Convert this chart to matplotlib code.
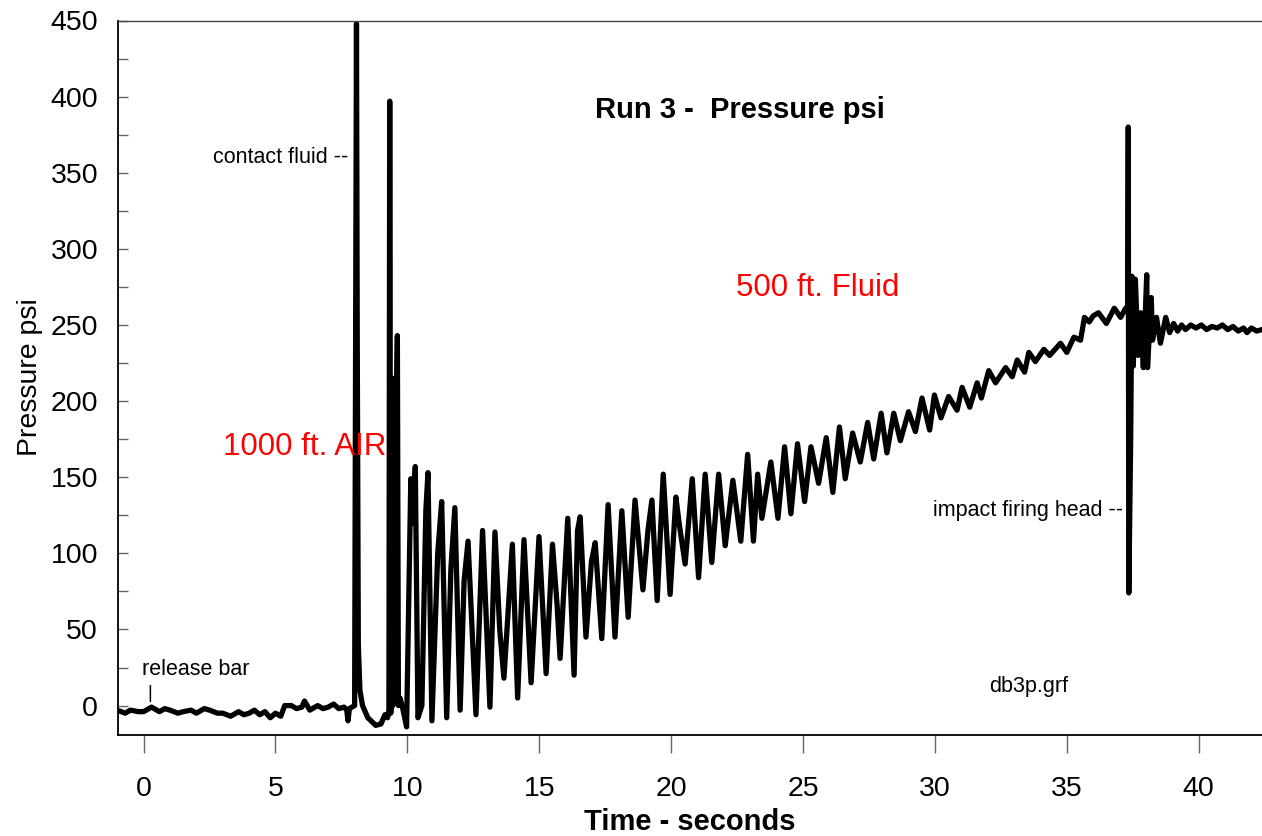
import matplotlib
matplotlib.use("Agg")
import matplotlib.pyplot as plt
from matplotlib.ticker import MultipleLocator

plt.rcParams['font.family'] = ['Liberation Sans', 'DejaVu Sans']

# Pressure trace: key points (time s, pressure psi)
time_s = [
    -1.0, -0.7, -0.5, -0.2, 0.0, 0.3, 0.6, 0.8, 1.0, 1.3, 1.5, 1.8, 2.0, 2.3, 2.5, 2.8,
    3.0, 3.3, 3.6, 3.8, 4.0, 4.2, 4.4, 4.6, 4.8, 5.0, 5.2,
    5.35, 5.6, 5.8, 6.0, 6.1, 6.3, 6.6, 6.8, 7.0, 7.2, 7.4, 7.6, 7.7, 7.75, 7.8, 8.0,
    8.07, 8.10, 8.14, 8.2, 8.3, 8.5, 8.8, 9.0, 9.15, 9.25, 9.30,
    9.33, 9.37, 9.42, 9.45, 9.50, 9.53, 9.58, 9.62, 9.66, 9.72, 9.8, 9.97,
    10.13, 10.2, 10.3, 10.4, 10.55, 10.7, 10.78, 10.93, 11.15, 11.3, 11.49,
    11.65, 11.8, 12.0, 12.15, 12.3, 12.6, 12.85, 13.13, 13.32, 13.5, 13.66,
    13.98, 14.18, 14.42, 14.69, 14.99, 15.26, 15.5, 15.68, 15.79, 16.08, 16.32,
    16.45, 16.55, 16.77, 16.98, 17.12, 17.37, 17.61, 17.87, 18.13, 18.37, 18.63,
    18.93, 19.12, 19.27, 19.47, 19.7, 19.96, 20.18, 20.3, 20.53, 20.8, 21.04,
    21.29, 21.54, 21.8, 22.05, 22.34, 22.64, 22.9, 23.12, 23.28, 23.44, 23.78,
    24.05, 24.3, 24.54, 24.79, 25.06, 25.3, 25.59, 25.88, 26.13, 26.38, 26.6,
    26.88, 27.17, 27.45, 27.68, 27.96, 28.18, 28.44, 28.69, 29.0, 29.26, 29.51,
    29.8, 29.98, 30.23, 30.52, 30.84, 31.03, 31.32, 31.6, 31.76, 32.04, 32.3,
    32.68, 32.93, 33.12, 33.4, 33.56, 33.81, 34.13, 34.35, 34.76, 35.0, 35.27,
    35.52, 35.67, 35.85, 36.0, 36.2, 36.5, 36.8, 37.04, 37.23,
    37.31, 37.33, 37.35, 37.42, 37.47, 37.52, 37.6, 37.7, 37.8, 37.9, 38.0,
    38.03, 38.06, 38.2, 38.25, 38.4, 38.55, 38.75, 38.9, 39.05, 39.2, 39.35,
    39.5, 39.7, 39.9, 40.1, 40.3, 40.5, 40.7, 40.9, 41.1, 41.3, 41.5, 41.7,
    41.83, 42.0, 42.2, 42.4,
]
pressure_psi = [
    -3, -5, -3, -4, -4, -1, -4, -2, -3, -5, -4, -3, -5, -2, -3, -5,
    -5, -7, -4, -6, -5, -3, -6, -4, -8, -5, -7,
    0, 0, -2, -1, 3, -3, 0, -2, -1, 1, -2, -1, -3, -10, -2, 0,
    448, 235, 40, 10, 0, -8, -13, -12, -6, -8, -3,
    397, -5, 150, 0, 215, 20, 190, 243, 0, 5, 0, -14,
    149, 120, 157, -8, 0, 128, 153, -10, 100, 134, -8,
    90, 130, -3, 82, 108, -6, 115, -1, 114, 50, 18,
    106, 5, 109, 15, 111, 21, 106, 65, 31, 123, 20,
    115, 124, 45, 95, 107, 44, 132, 45, 128, 58, 135,
    76, 115, 135, 69, 152, 73, 137, 120, 93, 149, 84,
    152, 94, 152, 105, 148, 108, 165, 108, 152, 123, 160,
    123, 170, 126, 172, 134, 170, 146, 176, 140, 183, 149,
    179, 160, 186, 162, 192, 166, 192, 174, 193, 180, 202,
    181, 204, 189, 203, 194, 209, 196, 212, 202, 220, 212,
    222, 216, 227, 219, 232, 226, 234, 230, 238, 232, 242,
    240, 255, 252, 256, 258, 251, 261, 255, 261,
    262, 380, 74, 174, 282, 223, 280, 230, 258, 222, 270,
    283, 222, 268, 240, 255, 238, 255, 245, 251, 246, 250,
    247, 250, 248, 250, 247, 249, 248, 250, 247, 249, 246, 248,
    245, 248, 246, 247,
]

x_ticks = [0, 5, 10, 15, 20, 25, 30, 35, 40]
y_ticks = [0, 50, 100, 150, 200, 250, 300, 350, 400, 450]

fig = plt.figure(figsize=(12.62, 8.36), dpi=100)
ax = fig.add_axes([117.5 / 1262, 1 - 734.5 / 836, 1 - 117.5 / 1262, (734.5 - 20.5) / 836])

ax.plot(time_s, pressure_psi, color='black', linewidth=3.8,
        solid_joinstyle='round', solid_capstyle='round')

ax.set_xlim(-0.99, 42.4)
ax.set_ylim(-19, 450)
ax.set_xticks(x_ticks)
ax.set_yticks(y_ticks)
ax.yaxis.set_minor_locator(MultipleLocator(25))

ax.tick_params(axis='x', direction='out', length=13, width=1, color='#666666',
               labelsize=20.5, pad=17)
ax.tick_params(axis='y', which='both', direction='in', length=7.5, width=1,
               color='#666666', labelsize=20.5, pad=14)
ax.tick_params(axis='y', which='minor', length=7.5)

for s in ['left', 'bottom']:
    ax.spines[s].set_color('black')
    ax.spines[s].set_linewidth(1.3)
ax.spines['top'].set_color('#444444')
ax.spines['top'].set_linewidth(1.0)
ax.spines['right'].set_visible(False)

ax.set_xlabel('Time - seconds', fontsize=21, fontweight='bold', labelpad=4)
ax.set_ylabel('Pressure psi', fontsize=20.5, labelpad=5)

ax.text(22.6, 391, 'Run 3 -  Pressure psi', fontsize=21, fontweight='bold',
        ha='center', va='center')
ax.text(7.74, 360, 'contact fluid --', fontsize=15.5, ha='right', va='center')
ax.text(3.0, 170, '1000 ft. AIR', fontsize=22.5, color='red', ha='left', va='center')
ax.text(22.47, 274, '500 ft. Fluid', fontsize=22.5, color='red', ha='left', va='center')
ax.text(37.12, 128, 'impact firing head --', fontsize=15.5, ha='right', va='center')
ax.text(32.07, 12.5, 'db3p.grf', fontsize=15.5, ha='left', va='center')
ax.text(-0.08, 24, 'release bar', fontsize=15.5, ha='left', va='center')
ax.text(0.23, 8, '|', fontsize=13, ha='center', va='center')

fig.savefig('out.png', dpi=100)
